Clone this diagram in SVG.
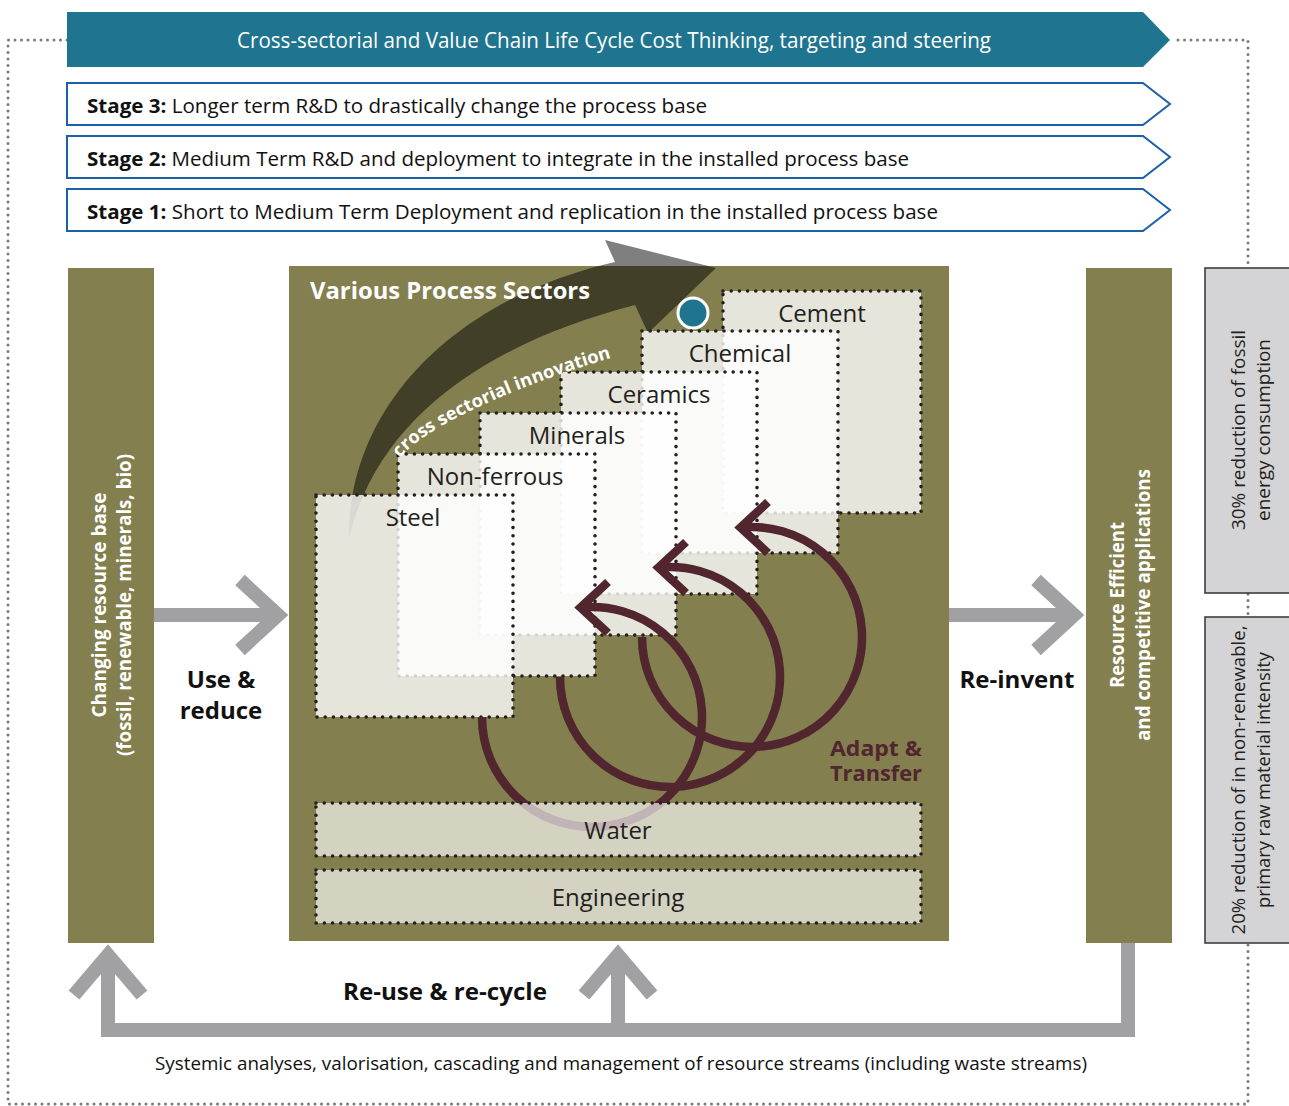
<svg xmlns="http://www.w3.org/2000/svg" width="1289" height="1106" viewBox="0 0 1289 1106">
<style>
.f{font-family:"Open Sans","Noto Sans","Liberation Sans",sans-serif}
.b{font-weight:bold}
.olive{fill:#837f4f}
.stage{fill:#fff;stroke:#1c60a8;stroke-width:2}
.sector{fill:#fff;fill-opacity:0.8;stroke:#231f20;stroke-width:3.6;stroke-dasharray:0 8.2;stroke-linecap:round}
.band{fill:#fff;fill-opacity:0.65;stroke:#231f20;stroke-width:3.6;stroke-dasharray:0 8.2;stroke-linecap:round}
.lbl{font-size:24px;fill:#231f20;text-anchor:middle}
.gray{fill:none;stroke:#a1a1a4;stroke-width:14}
.arc{fill:none;stroke:#51262f;stroke-width:8.5}
.side{fill:#d4d4d6;stroke:#333;stroke-width:1.5}
.vt{fill:#fff;font-size:19px;text-anchor:middle;font-weight:bold}
.st{font-size:20px;fill:#111}
</style>
<rect width="1289" height="1106" fill="#fff"/>
<g id="outer-border">
<path d="M67 40 H8 V1104 H1248 V40 H1172" fill="none" stroke="#7a7a7a" stroke-width="3" stroke-dasharray="0 6.5" stroke-linecap="round"/>
</g>
<g id="banner">
<polygon points="67,12 1143,12 1170,40 1143,67 67,67" fill="#1f7590"/>
<text class="f" x="614" y="48" font-size="21" fill="#fff" text-anchor="middle" textLength="754" lengthAdjust="spacingAndGlyphs">Cross-sectorial and Value Chain Life Cycle Cost Thinking, targeting and steering</text>
</g>
<g id="stage3">
<polygon class="stage" points="67,83 1143,83 1170,104 1143,125 67,125"/>
<text class="f st" x="87" y="113" textLength="620" lengthAdjust="spacingAndGlyphs"><tspan font-weight="bold">Stage 3:</tspan> Longer term R&amp;D to drastically change the process base</text>
</g>
<g id="stage2">
<polygon class="stage" points="67,136 1143,136 1170,157 1143,178 67,178"/>
<text class="f st" x="87" y="166" textLength="822" lengthAdjust="spacingAndGlyphs"><tspan font-weight="bold">Stage 2:</tspan> Medium Term R&amp;D and deployment to integrate in the installed process base</text>
</g>
<g id="stage1">
<polygon class="stage" points="67,189 1143,189 1170,210 1143,231 67,231"/>
<text class="f st" x="87" y="219" textLength="851" lengthAdjust="spacingAndGlyphs"><tspan font-weight="bold">Stage 1:</tspan> Short to Medium Term Deployment and replication in the installed process base</text>
</g>
<g id="side-fossil">
<rect class="side" x="1205" y="268" width="90" height="325" stroke="#111" stroke-width="2"/>
<g class="f" font-size="19" fill="#231f20" text-anchor="middle" transform="translate(1245,430) rotate(-90)">
<text x="0" y="0" textLength="200" lengthAdjust="spacingAndGlyphs">30% reduction of fossil</text>
<text x="0" y="25" textLength="182" lengthAdjust="spacingAndGlyphs">energy consumption</text>
</g>
</g>
<g id="side-material">
<rect class="side" x="1205" y="617" width="90" height="326" stroke="#666"/>
<g class="f" font-size="19" fill="#231f20" text-anchor="middle" transform="translate(1245,780) rotate(-90)">
<text x="0" y="0" textLength="309" lengthAdjust="spacingAndGlyphs">20% reduction of in non-renewable,</text>
<text x="0" y="25" textLength="256" lengthAdjust="spacingAndGlyphs">primary raw material intensity</text>
</g>
</g>
<g id="resource-base">
<rect class="olive" x="68" y="268" width="86" height="675"/>
<g class="f vt" transform="translate(106,605) rotate(-90)">
<text x="0" y="0" textLength="225" lengthAdjust="spacingAndGlyphs">Changing resource base</text>
<text x="0" y="25" textLength="302" lengthAdjust="spacingAndGlyphs">(fossil, renewable, minerals, bio)</text>
</g>
</g>
<g id="applications">
<rect class="olive" x="1086" y="268" width="86" height="675"/>
<g class="f vt" transform="translate(1124,605) rotate(-90)">
<text x="0" y="0" textLength="166" lengthAdjust="spacingAndGlyphs">Resource Efficient</text>
<text x="0" y="26" textLength="272" lengthAdjust="spacingAndGlyphs">and competitive applications</text>
</g>
</g>
<g id="process-sectors">
<rect class="olive" x="289" y="266" width="660" height="675"/>
</g>
<g id="innovation-arrow">
<path d="M349 538 C348 410 450 300 615 262 L605 240 L716 268 L648 333 L635 305 C500 340 380 410 349 538 Z" fill="#000" fill-opacity="0.5"/>
</g>
<g id="process-sectors-title">
<text class="f b" x="310" y="299" font-size="24" fill="#fff" textLength="280" lengthAdjust="spacingAndGlyphs">Various Process Sectors</text>
</g>
<g id="marker-dot">
<circle cx="693" cy="313" r="15" fill="#1f7590" stroke="#fff" stroke-width="3"/>
</g>
<g id="cement">
<rect class="sector" x="723" y="291" width="198" height="222"/>
<text class="f lbl" x="822" y="322">Cement</text>
</g>
<g id="chemical">
<rect class="sector" x="642" y="331" width="196" height="222"/>
<text class="f lbl" x="740" y="362">Chemical</text>
</g>
<g id="ceramics">
<rect class="sector" x="561" y="372" width="196" height="222"/>
<text class="f lbl" x="659" y="403">Ceramics</text>
</g>
<g id="minerals">
<rect class="sector" x="480" y="413" width="196" height="222"/>
<text class="f lbl" x="577" y="444">Minerals</text>
</g>
<g id="non-ferrous">
<rect class="sector" x="398" y="454" width="197" height="222"/>
<text class="f lbl" x="495" y="485">Non-ferrous</text>
</g>
<g id="steel">
<rect class="sector" x="316" y="495" width="197" height="222"/>
<text class="f lbl" x="413" y="526">Steel</text>
</g>
<g id="innovation-label">
<path id="innovPath" d="M400 458 C430 420 550 374 626 354" fill="none"/>
<text class="f b" font-size="18" fill="#fff"><textPath href="#innovPath" textLength="236" lengthAdjust="spacingAndGlyphs">cross sectorial innovation</textPath></text>
</g>
<g id="connectors">
<g id="adapt-arcs">
<path class="arc" d="M482 717 A110 110 0 1 0 580.5 607.6"/>
<polyline class="arc" points="608,582 580.5,607.6 608,633"/>
<path class="arc" d="M560 677 A110 110 0 1 0 658.5 567.6"/>
<polyline class="arc" points="686,542 658.5,567.6 686,593"/>
<path class="arc" d="M642 637 A110 110 0 1 0 740.5 527.6"/>
<polyline class="arc" points="768,502 740.5,527.6 768,553"/>
</g>
<g id="use-reduce-arrow">
<line class="gray" x1="154" y1="615" x2="278" y2="615"/>
<polyline class="gray" points="240,580 278,615 240,650"/>
</g>
<g id="reinvent-arrow">
<line class="gray" x1="949" y1="615" x2="1074" y2="615"/>
<polyline class="gray" points="1036,580 1074,615 1036,650"/>
</g>
<g id="recycle-arrows">
<path class="gray" d="M1128 943 V1030 H108 V958"/>
<line class="gray" x1="618" y1="1030" x2="618" y2="958"/>
<polyline class="gray" points="74,995 108,955 142,995"/>
<polyline class="gray" points="584,995 618,955 652,995"/>
</g>
</g>
<g id="water">
<rect class="band" x="316" y="803" width="605" height="53"/>
<text class="f lbl" x="618" y="839">Water</text>
</g>
<g id="engineering">
<rect class="band" x="316" y="870" width="605" height="53"/>
<text class="f lbl" x="618" y="906">Engineering</text>
</g>
<g id="labels" class="f b" font-size="24" fill="#111">
<text x="221" y="688" text-anchor="middle">Use &amp;</text>
<text x="221" y="719" text-anchor="middle">reduce</text>
<text x="1017" y="688" text-anchor="middle" textLength="115" lengthAdjust="spacingAndGlyphs">Re-invent</text>
<text x="445" y="1000" text-anchor="middle" textLength="204" lengthAdjust="spacingAndGlyphs">Re-use &amp; re-cycle</text>
<text x="922" y="756" font-size="21.5" text-anchor="end" fill="#51262f" textLength="92" lengthAdjust="spacingAndGlyphs">Adapt &amp;</text>
<text x="922" y="781" font-size="21.5" text-anchor="end" fill="#51262f" textLength="92" lengthAdjust="spacingAndGlyphs">Transfer</text>
</g>
<g id="streams">
<text class="f" x="621" y="1070" font-size="19" fill="#111" text-anchor="middle" textLength="932" lengthAdjust="spacingAndGlyphs">Systemic analyses, valorisation, cascading and management of resource streams (including waste streams)</text>
</g>
</svg>
